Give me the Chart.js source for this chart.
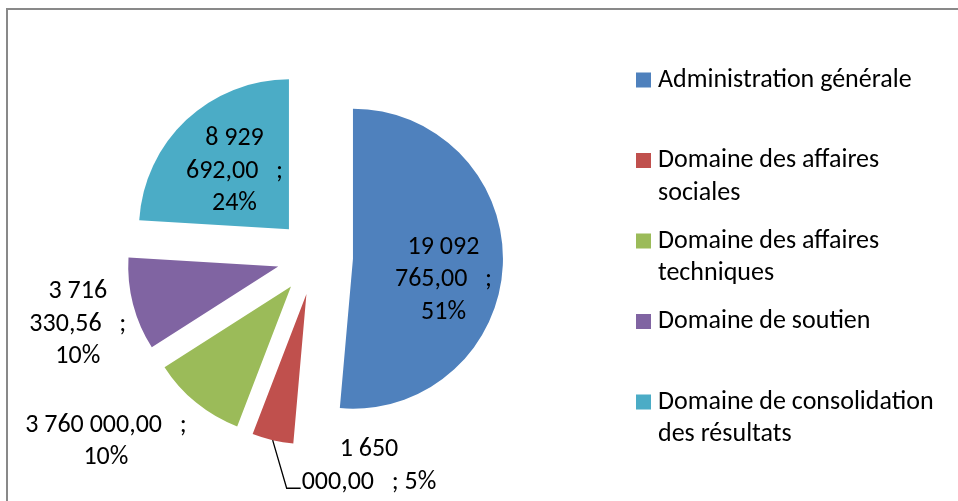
<!DOCTYPE html>
<html>
<head>
  <title>Répartition par domaine</title>
  <script src="https://cdn.jsdelivr.net/npm/chart.js"></script>
  <style>
    html, body { margin: 0; padding: 0; background: #fff; }
  </style>
</head>
<body>
  <canvas id="pie-chart" width="958" height="501"></canvas>
  <script>
    // data
    const categories = [
      'Administration générale',
      'Domaine des affaires sociales',
      'Domaine des affaires techniques',
      'Domaine de soutien',
      'Domaine de consolidation des résultats'
    ];
    const amounts = [19092765.00, 1650000.00, 3760000.00, 3716330.56, 8929692.00];
    const percentLabels = ['51%', '5%', '10%', '10%', '24%'];
    // the value labels as they are wrapped in the picture
    const valueLabelLines = [
      ['19 092', '765,00   ;', '51%'],
      ['1 650', '000,00   ; 5%'],
      ['3 760 000,00   ;', '10%'],
      ['3 716', '330,56   ;', '10%'],
      ['8 929', '692,00   ;', '24%']
    ];
    const sliceColors = ['#4F81BD', '#C0504D', '#9BBB59', '#8064A2', '#4BACC6'];

    const FONT = '26px Carlito, Lato, sans-serif';
    const LINE_H = 32.5;
    const EXPLODE = 38;

    // where each value label sits: distance (x radius) and turn (deg) from the slice middle
    const labelPlace = [
      { dist: 0.62, turn: 10.7 },
      { dist: 1.22, turn: -33, leader: true },
      { dist: 1.61, turn: 10.8 },
      { dist: 1.39, turn: -1.5 },
      { dist: 0.53, turn: 0 }
    ];

    // pull every slice out from the centre
    const explodePlugin = {
      id: 'explode',
      afterDatasetsUpdate(chart) {
        chart.getDatasetMeta(0).data.forEach(arc => {
          const mid = (arc.startAngle + arc.endAngle) / 2;
          arc.x += Math.cos(mid) * EXPLODE;
          arc.y += Math.sin(mid) * EXPLODE;
        });
      }
    };

    // outer frame
    const framePlugin = {
      id: 'frame',
      beforeDraw(chart) {
        const ctx = chart.ctx;
        ctx.save();
        ctx.strokeStyle = '#898989';
        ctx.lineWidth = 2;
        ctx.strokeRect(7, 9, chart.width + 20, chart.height + 20);
        ctx.restore();
      }
    };

    const valueLabelPlugin = {
      id: 'valueLabels',
      afterDatasetsDraw(chart) {
        const ctx = chart.ctx;
        ctx.save();
        ctx.font = FONT;
        ctx.fillStyle = '#000';
        ctx.textAlign = 'center';
        ctx.textBaseline = 'middle';
        chart.getDatasetMeta(0).data.forEach((arc, i) => {
          const mid = (arc.startAngle + arc.endAngle) / 2;
          const place = labelPlace[i];
          const ang = mid + place.turn * Math.PI / 180;
          const ax = arc.x + Math.cos(ang) * arc.outerRadius * place.dist;
          const ay = arc.y + Math.sin(ang) * arc.outerRadius * place.dist;
          const lines = valueLabelLines[i];
          const y0 = ay - (lines.length - 1) / 2 * LINE_H;
          lines.forEach((t, k) => ctx.fillText(t, ax, y0 + k * LINE_H));

          if (place.leader) {
            const last = lines[lines.length - 1];
            const lx = ax - ctx.measureText(last).width / 2;
            const ly = y0 + (lines.length - 1) * LINE_H + 6;
            ctx.beginPath();
            ctx.strokeStyle = '#000';
            ctx.lineWidth = 1.3;
            ctx.moveTo(arc.x + Math.cos(mid) * arc.outerRadius, arc.y + Math.sin(mid) * arc.outerRadius);
            ctx.lineTo(lx - 15, ly);
            ctx.lineTo(lx - 1, ly);
            ctx.stroke();
          }
        });
        ctx.restore();
      }
    };

    // legend on the right, wrapped like the original
    const sideLegendPlugin = {
      id: 'sideLegend',
      afterDraw(chart) {
        const ctx = chart.ctx;
        const boxX = 636, textX = 658, firstY = 80, step = 80.5, maxW = 290;
        ctx.save();
        ctx.font = FONT;
        ctx.textAlign = 'left';
        ctx.textBaseline = 'middle';
        categories.forEach((name, i) => {
          const y = firstY + i * step;
          ctx.fillStyle = sliceColors[i];
          ctx.fillRect(boxX, y - 7.5, 15, 15);
          ctx.fillStyle = '#000';
          const words = name.split(' ');
          const lines = [];
          let line = words[0];
          for (let w = 1; w < words.length; w++) {
            const test = line + ' ' + words[w];
            if (ctx.measureText(test).width > maxW) {
              lines.push(line);
              line = words[w];
            } else {
              line = test;
            }
          }
          lines.push(line);
          lines.forEach((t, k) => ctx.fillText(t, textX, y + k * LINE_H));
        });
        ctx.restore();
      }
    };

    const ctx = document.getElementById('pie-chart').getContext('2d');
    new Chart(ctx, {
      type: 'pie',
      data: {
        labels: categories,
        datasets: [{
          data: amounts,
          backgroundColor: sliceColors,
          borderWidth: 0,
          radius: 150
        }]
      },
      options: {
        responsive: false,
        animation: false,
        layout: { padding: { left: 165, right: 493, top: 107, bottom: 94 } },
        plugins: {
          legend: { display: false },
          tooltip: { enabled: false }
        }
      },
      plugins: [framePlugin, explodePlugin, valueLabelPlugin, sideLegendPlugin]
    });
  </script>
</body>
</html>
